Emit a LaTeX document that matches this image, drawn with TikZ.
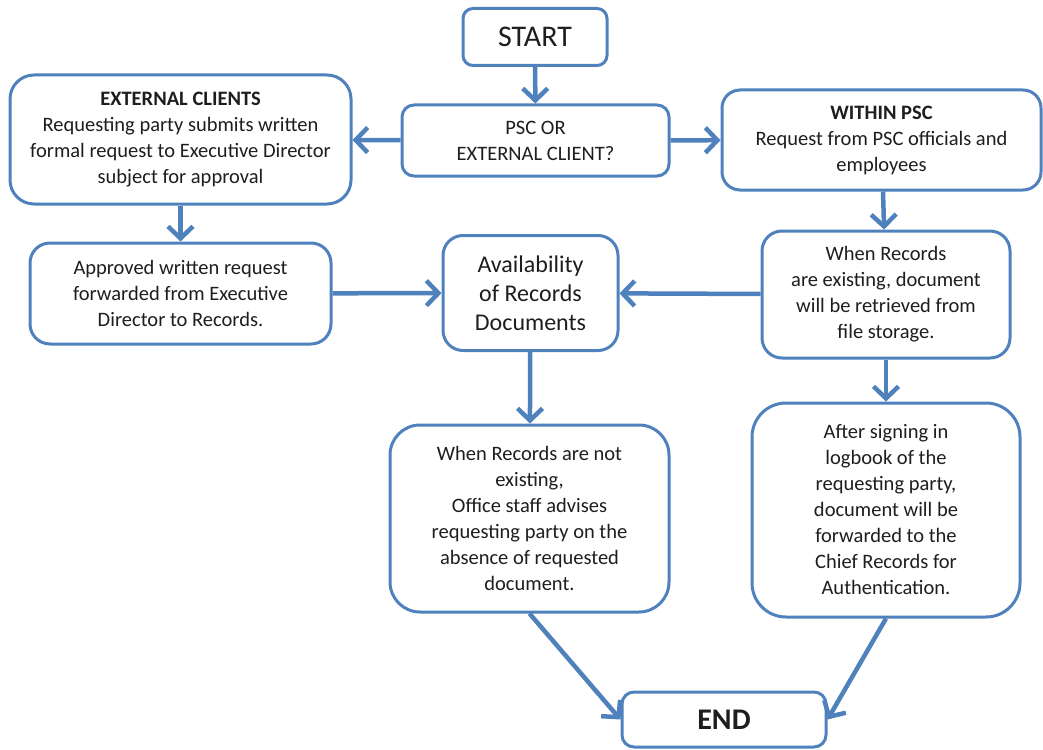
\documentclass[tikz,border=0pt]{standalone}
\usepackage{fontspec}
\setmainfont{Carlito}
\usetikzlibrary{arrows.meta}
\definecolor{flowblue}{RGB}{79,129,189}
\definecolor{inkgray}{RGB}{30,30,30}
\begin{document}
\begin{tikzpicture}[x=1pt,y=-1pt,
  box/.style={draw=flowblue, line width=3pt, fill=white, align=center,
    text=inkgray, inner sep=0pt, font=\fontsize{20.5}{26}\selectfont},
  flow/.style={draw=flowblue, line width=4.5pt,
    -{Straight Barb[length=12pt,width=25pt]}}]
\useasboundingbox (0,0) rectangle (1043,749);

% process boxes
\node[box, rounded corners=10pt, minimum width=144pt, minimum height=57pt,
  font=\fontsize{30}{34}\selectfont] (start) at (535,37) {START};
\node[box, rounded corners=12pt, minimum width=267pt, minimum height=71pt]
  (psc) at (535.5,140.5) {PSC OR\\EXTERNAL CLIENT?};
\node[box, rounded corners=24pt, minimum width=341pt, minimum height=129pt]
  (ext) at (180.5,139.5) {\textbf{EXTERNAL CLIENTS}\\Requesting party submits written\\formal request to Executive Director\\subject for approval};
\node[box, rounded corners=18pt, minimum width=319pt, minimum height=100pt]
  (within) at (881.5,140) {\textbf{WITHIN PSC}\\Request from PSC officials and\\employees};
\node[box, rounded corners=20pt, minimum width=301pt, minimum height=101pt]
  (appr) at (180.5,293.5) {Approved written request\\forwarded from Executive\\Director to Records.};
\node[box, rounded corners=20pt, minimum width=175pt, minimum height=115pt,
  font=\fontsize{24}{29}\selectfont] (avail) at (530.5,293) {Availability\\of Records\\Documents};
\node[box, rounded corners=20pt, minimum width=248pt, minimum height=127pt]
  (exist) at (886,294.5) {When Records\\are existing, document\\will be retrieved from\\file storage.};
\node[box, rounded corners=30pt, minimum width=279pt, minimum height=187pt]
  (notex) at (529.5,518.5) {When Records are not\\existing,\\Office staff advises\\requesting party on the\\absence of requested\\document.};
\node[box, rounded corners=34pt, minimum width=268pt, minimum height=214pt]
  (after) at (886,510) {After signing in\\logbook of the\\requesting party,\\document will be\\forwarded to the\\Chief Records for\\Authentication.};
\node[box, rounded corners=12pt, minimum width=204pt, minimum height=55pt,
  font=\fontsize{30}{34}\selectfont\bfseries] (end) at (724,719.5) {END};

% connectors
\draw[flow] (start) -- (psc);
\draw[flow] (psc) -- (ext);
\draw[flow] (psc) -- (within);
\draw[flow] (ext) -- (appr);
\draw[flow] (appr) -- (avail);
\draw[flow] (within) -- (exist);
\draw[flow] (exist) -- (avail);
\draw[flow] (avail) -- (notex);
\draw[flow] (exist) -- (after);
\draw[flow] (notex.south) -- (end.west);
\draw[flow] (after.south) -- (end.east);
\end{tikzpicture}
\end{document}
